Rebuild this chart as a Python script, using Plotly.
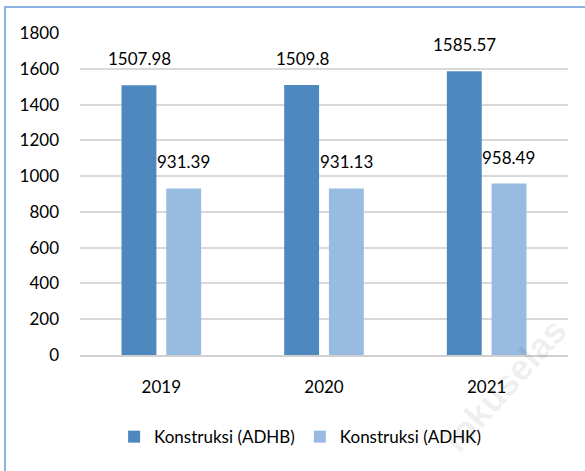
import plotly.graph_objects as go

# Data
years = ['2019', '2020', '2021']
adhb = [1507.98, 1509.8, 1585.57]
adhk = [931.39, 931.13, 958.49]
adhb_labels = ['1507.98', '1509.8', '1585.57']
adhk_labels = ['931.39', '931.13', '958.49']
y_ticks = [0, 200, 400, 600, 800, 1000, 1200, 1400, 1600, 1800]

font_family = "Lato, Open Sans, sans-serif"

fig = go.Figure()

fig.add_trace(go.Bar(
    x=years, y=adhb, name='Konstruksi (ADHB)',
    marker=dict(color='#4F88BF', line=dict(width=0))
))

fig.add_trace(go.Bar(
    x=years, y=adhk, name='Konstruksi (ADHK)',
    marker=dict(color='#98BBE1', line=dict(width=0))
))

# value labels above the bars (a bit more gap than plotly's own outside text)
# category axis -> annotation x is the category's serial number
for i, (v, lab) in enumerate(zip(adhb, adhb_labels)):
    fig.add_annotation(x=i, y=v, text=lab, showarrow=False, xshift=-22,
                       yshift=14, yanchor='bottom', font=dict(size=17))
for i, (v, lab) in enumerate(zip(adhk, adhk_labels)):
    fig.add_annotation(x=i, y=v, text=lab, showarrow=False, xshift=22,
                       yshift=14, yanchor='bottom', font=dict(size=17))

# Outer frame, partly cut off at right and bottom
fig.add_shape(type='rect', xref='paper', yref='paper',
              x0=-0.1537, x1=1.2, y0=-0.6, y1=1.0807,
              line=dict(color='#8DB3E2', width=2), layer='below')

# Faint watermark
fig.add_annotation(text='<b>lokuselas</b>', xref='paper', yref='paper',
                   x=0.871, y=-0.093, xanchor='center', yanchor='middle',
                   showarrow=False, textangle=-48,
                   font=dict(size=36, color='rgba(0,0,0,0.07)',
                             family='Liberation Sans'))

fig.update_layout(
    width=585, height=471,
    margin=dict(l=80, r=17, t=33, b=116, autoexpand=False),
    paper_bgcolor='white', plot_bgcolor='white',
    font=dict(family=font_family, size=17, color='black'),
    barmode='group', bargap=0.45, bargroupgap=0.22,
    showlegend=True,
    legend=dict(orientation='h', x=0.451, xanchor='center', y=-0.255,
                yanchor='middle', font=dict(size=17), itemwidth=30,
                traceorder='normal'),
    xaxis=dict(type='category', showgrid=False, showline=True,
               linecolor='#D0D0D0', linewidth=1.5, ticks='',
               ticklabelstandoff=16, tickfont=dict(size=17)),
    yaxis=dict(range=[0, 1800], tickvals=y_ticks, showgrid=True,
               gridcolor='#D9D9D9', gridwidth=1.5, zeroline=False,
               ticks='', ticklabelstandoff=20, tickfont=dict(size=17)),
)

# drop the default page margin so the figure sits at the window's corner
fig.write_html("out.html", config={'displayModeBar': False},
               post_script="document.body.style.margin='0';")
